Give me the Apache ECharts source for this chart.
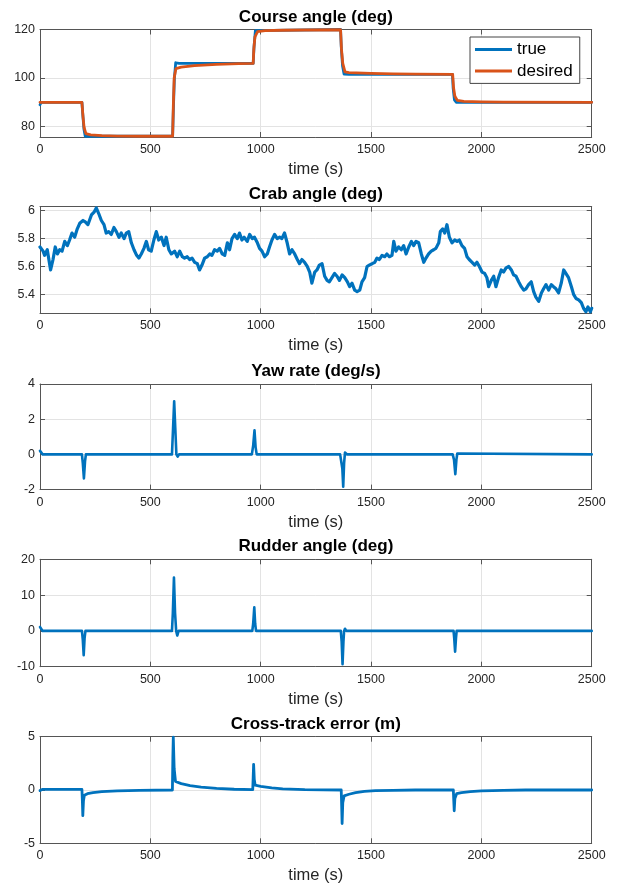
<!DOCTYPE html>
<html><head><meta charset="utf-8">
<script src="https://cdn.jsdelivr.net/npm/echarts@6/dist/echarts.min.js"></script>
<style>html,body{margin:0;padding:0;background:#fff}#c{width:619px;height:886px}</style>
</head><body><div id="c"></div>
<script>
// ---------- data ----------
const xTicks = [0, 500, 1000, 1500, 2000, 2500];

const courseTrueT = [0,5,190,193,199,205,215,601,604,609,615,630,966,970,976,985,1362,1365,1371,1378,1400,1869,1872,1878,1886,2500];
const courseTrueV = [89,90,90,86,79,76,76,76,86,100,106.3,106,106,113,119.5,120,120,113,105,101.6,101.5,101.5,96,91,90,90];

const courseDesT = [0,190,195,200,208,230,280,350,450,601,604,608,616,640,700,800,900,966,969,974,986,1020,1100,1200,1362,1366,1372,1382,1400,1500,1600,1700,1870,1874,1880,1891,1920,2000,2100,2500];
const courseDesV = [90,90,84,79.5,77.1,76.6,76.3,76.1,76,76,88,100,103.9,104.5,105.1,105.6,105.9,106,112,117,119.1,119.5,119.7,119.8,119.9,112,106,102.5,102.2,101.9,101.7,101.6,101.5,96,92.5,90.8,90.4,90.2,90.1,90];

const crabT = [0,14,21,33,48,59,69,79,89,100,112,124,134,145,157,169,180,195,205,217,233,245,255,266,278,290,300,311,323,335,346,358,368,381,391,402,414,426,438,448,459,471,482,492,504,516,527,538,550,562,572,584,595,610,622,633,645,655,667,678,689,701,713,723,734,746,758,769,779,791,803,814,826,837,849,859,870,882,894,904,915,925,939,950,962,972,985,995,1006,1018,1030,1040,1051,1063,1075,1086,1096,1108,1120,1131,1142,1154,1166,1176,1187,1199,1211,1222,1232,
  1245,1255,1266,1278,1290,1301,1311,1323,1335,1346,1357,1369,1381,1393,1403,1414,1426,1437,1449,1459,1471,1482,1492,1505,1517,1527,1538,1550,1562,1572,1583,1595,1603,1613,1625,1637,1648,1659,1671,1683,1693,1704,1716,1728,1739,1749,1761,1773,1784,1794,1807,1814,1825,1834,1844,1855,1867,1879,1890,1900,1912,1924,1935,1945,1958,1970,1980,1991,2003,2015,2025,2033,2045,2056,2066,2078,2090,2101,2112,2124,2136,2146,2157,2169,2181,2192,2202,2214,2226,2237,2247,2260,2272,2282,2293,2305,2317,2327,2338,2350,2362,2373,2383,2395,2408,2418,2429,2441,2453,2463,2474,2483,2494,2500];
const crabV = [5.74,5.71,5.68,5.72,5.575,5.65,5.74,5.69,5.72,5.71,5.78,5.75,5.79,5.84,5.81,5.87,5.91,5.93,5.92,5.90,5.97,5.99,6.02,5.98,5.93,5.90,5.84,5.85,5.83,5.88,5.85,5.81,5.84,5.80,5.84,5.85,5.77,5.72,5.68,5.66,5.69,5.73,5.78,5.72,5.71,5.79,5.85,5.79,5.81,5.75,5.81,5.72,5.69,5.71,5.67,5.71,5.67,5.66,5.67,5.65,5.66,5.63,5.62,5.575,5.61,5.66,5.67,5.69,5.68,5.72,5.71,5.73,5.69,5.68,5.77,5.72,5.80,5.83,5.80,5.84,5.79,5.81,5.78,5.83,5.80,5.81,5.77,5.73,5.71,5.67,5.69,5.74,5.79,5.83,5.80,5.81,5.80,5.84,5.77,5.69,5.72,5.69,5.65,5.62,5.65,5.63,5.60,5.56,5.48,
  5.56,5.575,5.61,5.62,5.53,5.50,5.49,5.52,5.55,5.53,5.50,5.54,5.52,5.49,5.455,5.48,5.43,5.42,5.43,5.49,5.52,5.60,5.61,5.62,5.63,5.66,5.65,5.68,5.67,5.69,5.67,5.68,5.78,5.71,5.74,5.72,5.75,5.69,5.74,5.78,5.75,5.78,5.77,5.69,5.63,5.66,5.69,5.71,5.72,5.73,5.77,5.85,5.87,5.84,5.90,5.81,5.77,5.79,5.78,5.79,5.75,5.73,5.67,5.65,5.63,5.61,5.63,5.60,5.56,5.55,5.52,5.455,5.50,5.53,5.455,5.52,5.575,5.56,5.59,5.60,5.575,5.54,5.53,5.49,5.455,5.43,5.44,5.47,5.49,5.42,5.38,5.35,5.41,5.44,5.47,5.43,5.47,5.455,5.44,5.41,5.48,5.575,5.55,5.52,5.455,5.40,5.37,5.36,5.34,5.30,5.275,5.31,5.275,5.30];

const yawT = [0,5,12,100,190,194,199,204,208,213,300,598,603,608,613,618,624,630,960,966,972,977,982,986,1360,1366,1370,1374,1378,1382,1386,1392,1870,1876,1882,1887,1891,1896,2500];
const yawV = [0.2,0.15,0,0,0,-0.5,-1.36,-0.4,0,0.05,0,0,1.5,3.02,1.5,0,-0.13,0,0,0.5,1.37,0.4,0,-0.05,0,0,-0.8,-1.83,-0.5,0.1,0.12,0,0,-0.3,-1.12,-0.3,0.05,0,0];

const rudderT = [0,5,12,20,28,190,194,198,202,206,212,218,598,602,607,612,617,622,628,962,966,971,975,979,984,990,1363,1367,1371,1375,1378,1382,1388,1874,1877,1881,1885,1888,1892,1898,2500];
const rudderV = [1.1,1.0,0,-0.3,0,0,-2.5,-6.8,-2,0,0.5,0,0,5,14.9,5,0,-1.3,0,0,2,6.6,2,0,-0.5,0,0,-3,-9.3,-3,0,0.6,0,0,-2,-5.8,-2,0,0.5,0,0];

const xteT = [0,10,190,192,194,197,201,215,240,280,350,450,600,602,604,608,614,640,680,730,800,880,964,966,968,971,975,1000,1050,1100,1200,1365,1367,1369,1372,1378,1400,1430,1470,1520,1600,1700,1873,1875,1877,1880,1888,1910,1950,2000,2100,2200,2500];
const xteV = [-0.05,0.05,0.05,-1,-2.4,-1,-0.5,-0.35,-0.25,-0.15,-0.08,-0.03,0,3,4.95,2,0.8,0.6,0.42,0.27,0.15,0.07,0.03,1.2,2.4,1,0.45,0.35,0.2,0.1,0.03,0,-1.5,-3.15,-1.2,-0.55,-0.4,-0.25,-0.13,-0.06,-0.03,0,0,-1,-1.95,-0.8,-0.35,-0.25,-0.15,-0.08,-0.03,0,0];

// ---------- layout / style ----------
const FONT = '"Liberation Sans", Arial, Helvetica, sans-serif';
const BLUE = '#0072BD', ORANGE = '#D95319';
const AX = '#555555', TXT = '#262626', GRIDC = '#e3e3e3';
const LEFT = 40, WIDTH = 551.7, CX = LEFT + WIDTH / 2;

const panels = [
  {title: 'Course angle (deg)',   top: 29.5,  height: 107.5, min: 75.7,  max: 120,   split: 2},
  {title: 'Crab angle (deg)',     top: 206.7, height: 106.6, min: 5.264, max: 6.029, split: 4},
  {title: 'Yaw rate (deg/s)',     top: 384,   height: 105.6, min: -2,    max: 4,     interval: 2},
  {title: 'Rudder angle (deg)',   top: 559.3, height: 107.4, min: -10,   max: 20,    interval: 10},
  {title: 'Cross-track error (m)',top: 736.7, height: 106.6, min: -5,    max: 5,     interval: 5}
];

const zip = (t, v) => t.map((x, i) => [x, v[i]]);
const plain = v => String(Math.round(v * 1000) / 1000);

const grid = [], xAxis = [], yAxis = [], graphic = [];
panels.forEach((p, i) => {
  grid.push({left: LEFT, width: WIDTH, top: p.top, height: p.height, containLabel: false});
  const tickStyle = {show: true, inside: true, length: 5, lineStyle: {color: AX, width: 1}};
  const lineStyle = {show: true, onZero: false, lineStyle: {color: AX, width: 1}};
  xAxis.push({
    gridIndex: i, type: 'value', min: xTicks[0], max: xTicks[xTicks.length - 1],
    interval: xTicks[1] - xTicks[0], position: 'bottom',
    axisLine: lineStyle, axisTick: tickStyle,
    axisLabel: {margin: 6, color: TXT, fontSize: 12.5, fontFamily: FONT, formatter: plain},
    splitLine: {show: true, lineStyle: {color: GRIDC, width: 1}},
    name: 'time (s)', nameLocation: 'middle', nameGap: 24,
    nameTextStyle: {fontSize: 16.5, color: TXT, fontFamily: FONT}
  });
  xAxis.push({
    gridIndex: i, type: 'value', min: xTicks[0], max: xTicks[xTicks.length - 1],
    interval: xTicks[1] - xTicks[0], position: 'top',
    axisLine: lineStyle, axisTick: tickStyle, axisLabel: {show: false}, splitLine: {show: false}
  });
  const yBase = {gridIndex: i, type: 'value', min: p.min, max: p.max};
  if (p.interval) yBase.interval = p.interval; else yBase.splitNumber = p.split;
  yAxis.push(Object.assign({}, yBase, {
    position: 'left', axisLine: lineStyle, axisTick: tickStyle,
    axisLabel: {margin: 5, color: TXT, fontSize: 12.5, fontFamily: FONT, formatter: plain,
      showMinLabel: !!p.interval, showMaxLabel: p.interval ? true : (p.max === 120)},
    splitLine: {show: true, lineStyle: {color: GRIDC, width: 1}}
  }));
  yAxis.push(Object.assign({}, yBase, {
    position: 'right', axisLine: lineStyle, axisTick: tickStyle,
    axisLabel: {show: false}, splitLine: {show: false}
  }));
  graphic.push({
    type: 'text', x: CX, y: p.top - 12.5, z: 10,
    style: {text: p.title, fill: '#000', font: 'bold 17px ' + FONT, align: 'center', verticalAlign: 'middle'}
  });
});

function line(name, t, v, color, idx, z, w) {
  return {name: name, type: 'line', xAxisIndex: 2 * idx, yAxisIndex: 2 * idx,
    data: zip(t, v), showSymbol: false, symbol: 'none', z: z || 2,
    lineStyle: {color: color, width: w || 2.6, join: 'round', cap: 'round'}, itemStyle: {color: color}, animation: false};
}

const option = {
  animation: false,
  backgroundColor: '#fff',
  textStyle: {fontFamily: FONT},
  grid: grid, xAxis: xAxis, yAxis: yAxis, graphic: graphic,
  legend: {
    data: ['true', 'desired'], orient: 'vertical', left: 470, top: 37,
    padding: [4, 7, 4, 5], itemGap: 4.4, itemWidth: 37, itemHeight: 3, icon: 'rect',
    borderColor: '#444', borderWidth: 1, backgroundColor: '#fff',
    textStyle: {fontSize: 17, color: '#000', fontFamily: FONT, lineHeight: 17}
  },
  series: [
    line('true', courseTrueT, courseTrueV, BLUE, 0, 2, 2.8),
    line('desired', courseDesT, courseDesV, ORANGE, 0, 3, 2.8),
    line('crab', crabT, crabV, BLUE, 1, 2, 3.2),
    line('yaw', yawT, yawV, BLUE, 2),
    line('rudder', rudderT, rudderV, BLUE, 3),
    line('xte', xteT, xteV, BLUE, 4, 2, 2.8)
  ]
};

const chart = echarts.init(document.getElementById('c'), null, {renderer: 'canvas'});
chart.setOption(option);
</script>
</body></html>
